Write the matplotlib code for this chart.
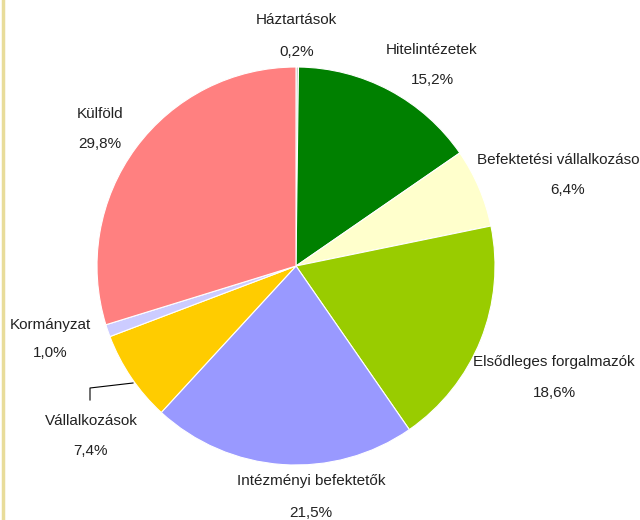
import matplotlib.pyplot as plt
from matplotlib import font_manager

# data
labels = ["Háztartások", "Hitelintézetek", "Befektetési vállalkozáso", "Elsődleges forgalmazók",
          "Intézményi befektetők", "Vállalkozások", "Kormányzat", "Külföld"]
values = [0.2, 15.2, 6.4, 18.6, 21.5, 7.4, 1.0, 29.8]
colors = ["#C0C0C0", "#008000", "#FFFFCC", "#99CC00", "#9999FF", "#FFCC00", "#CCCCFF", "#FF8080"]

# label centres in pixels (name, value)
label_pos = [((296, 20), (297, 52)), ((432, 50), (432, 80)), ((558, 160), (568, 190)),
             ((554, 362), (554, 393)), ((311, 481), (311, 513)), ((91, 421), (90, 451)),
             ((50, 325), (50, 353)), ((100, 114), (100, 144))]

names = {f.name for f in font_manager.fontManager.ttflist}
if "Liberation Sans Narrow" in names:
    family, fsize = "Liberation Sans Narrow", 13
else:
    family, fsize = "Liberation Sans", 11

W, H = 640, 520
fig = plt.figure(figsize=(W / 100, H / 100), dpi=100)
cx, cy, r = 296, 266, 199
ax = fig.add_axes([(cx - r) / W, (H - cy - r) / H, 2 * r / W, 2 * r / H])
ax.pie(values, colors=colors, startangle=90, counterclock=False,
       wedgeprops=dict(edgecolor="white", linewidth=0.8))
ax.set_xlim(-1, 1)
ax.set_ylim(-1, 1)
ax.set_aspect("equal")
ax.axis("off")

for name, v, (p1, p2) in zip(labels, values, label_pos):
    fig.text(p1[0] / W, 1 - p1[1] / H, name, ha="center", va="center",
             fontsize=fsize, color="#222222", family=family)
    fig.text(p2[0] / W, 1 - p2[1] / H, f"{v:.1f}%".replace(".", ","), ha="center", va="center",
             fontsize=fsize, color="#222222", family=family)

# leader line for Vállalkozások
fig.add_artist(plt.Line2D([133 / W, 90 / W, 90 / W], [1 - 383 / H, 1 - 388 / H, 1 - 400 / H],
                          color="black", linewidth=0.8))

# left border
fig.add_artist(plt.Line2D([2.5 / W, 2.5 / W], [0, 1], color="#E8DC9A", linewidth=2.5))

fig.savefig("out.png", dpi=100)
